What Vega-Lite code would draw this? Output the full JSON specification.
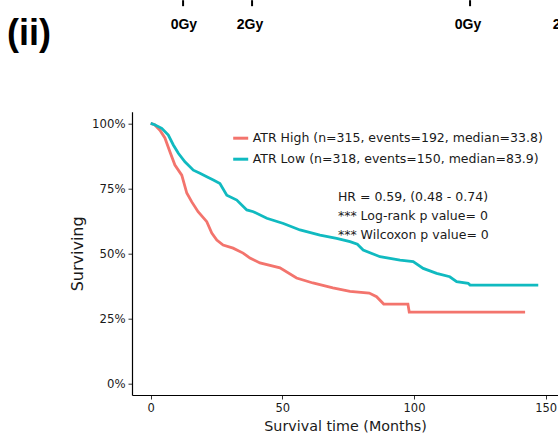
{
  "$schema": "https://vega.github.io/schema/vega-lite/v6.json",
  "autosize": "none",
  "width": 426,
  "height": 283.3,
  "padding": {"left": 132, "top": 111.7, "right": 0, "bottom": 42},
  "background": "white",
  "config": {
    "font": "DejaVu Sans",
    "view": {"stroke": null},
    "axis": {"grid": false, "domainColor": "#000000", "domainWidth": 1.2, "tickColor": "#333333", "tickSize": 4, "labelColor": "#1a1a1a", "titleColor": "#1a1a1a", "titleFontWeight": "normal", "labelFont": "DejaVu Sans", "titleFont": "DejaVu Sans", "labelFlush": false}
  },
  "encoding": {
    "x": {"field": "t", "type": "quantitative", "scale": {"domain": [-7.1, 154.7], "nice": false, "zero": false},
      "axis": {"title": "Survival time (Months)", "values": [0, 50, 100, 150], "labelFontSize": 11.5, "titleFontSize": 14.3, "labelPadding": 3, "titlePadding": 6}},
    "y": {"field": "s", "type": "quantitative", "scale": {"domain": [-0.045, 1.045], "nice": false, "zero": false},
      "axis": {"title": "Surviving", "values": [0, 0.25, 0.5, 0.75, 1], "format": ".0%", "labelFontSize": 11.7, "titleFontSize": 16, "labelPadding": 3, "titlePadding": 6}}
  },
  "layer": [
    {
      "data": {"values": [
        {"g": "ATR High (n=315, events=192, median=33.8)", "t": 0, "s": 1.0},
        {"g": "ATR High (n=315, events=192, median=33.8)", "t": 1.5, "s": 0.995},
        {"g": "ATR High (n=315, events=192, median=33.8)", "t": 3.5, "s": 0.974},
        {"g": "ATR High (n=315, events=192, median=33.8)", "t": 5.4, "s": 0.944},
        {"g": "ATR High (n=315, events=192, median=33.8)", "t": 7.3, "s": 0.891},
        {"g": "ATR High (n=315, events=192, median=33.8)", "t": 9.2, "s": 0.84},
        {"g": "ATR High (n=315, events=192, median=33.8)", "t": 11.8, "s": 0.801},
        {"g": "ATR High (n=315, events=192, median=33.8)", "t": 13.7, "s": 0.732},
        {"g": "ATR High (n=315, events=192, median=33.8)", "t": 15.6, "s": 0.698},
        {"g": "ATR High (n=315, events=192, median=33.8)", "t": 18.0, "s": 0.66},
        {"g": "ATR High (n=315, events=192, median=33.8)", "t": 21.3, "s": 0.622},
        {"g": "ATR High (n=315, events=192, median=33.8)", "t": 23.2, "s": 0.578},
        {"g": "ATR High (n=315, events=192, median=33.8)", "t": 25.1, "s": 0.551},
        {"g": "ATR High (n=315, events=192, median=33.8)", "t": 27.5, "s": 0.532},
        {"g": "ATR High (n=315, events=192, median=33.8)", "t": 31.3, "s": 0.52},
        {"g": "ATR High (n=315, events=192, median=33.8)", "t": 35.1, "s": 0.501},
        {"g": "ATR High (n=315, events=192, median=33.8)", "t": 37.7, "s": 0.482},
        {"g": "ATR High (n=315, events=192, median=33.8)", "t": 41.5, "s": 0.463},
        {"g": "ATR High (n=315, events=192, median=33.8)", "t": 49.1, "s": 0.444},
        {"g": "ATR High (n=315, events=192, median=33.8)", "t": 55.4, "s": 0.405},
        {"g": "ATR High (n=315, events=192, median=33.8)", "t": 61.6, "s": 0.386},
        {"g": "ATR High (n=315, events=192, median=33.8)", "t": 69.2, "s": 0.367},
        {"g": "ATR High (n=315, events=192, median=33.8)", "t": 75.7, "s": 0.354},
        {"g": "ATR High (n=315, events=192, median=33.8)", "t": 83.0, "s": 0.347},
        {"g": "ATR High (n=315, events=192, median=33.8)", "t": 85.8, "s": 0.333},
        {"g": "ATR High (n=315, events=192, median=33.8)", "t": 88.5, "s": 0.305},
        {"g": "ATR High (n=315, events=192, median=33.8)", "t": 97.7, "s": 0.305},
        {"g": "ATR High (n=315, events=192, median=33.8)", "t": 98.2, "s": 0.274},
        {"g": "ATR High (n=315, events=192, median=33.8)", "t": 142.2, "s": 0.274},
        {"g": "ATR Low (n=318, events=150, median=83.9)", "t": 0, "s": 1.0},
        {"g": "ATR Low (n=318, events=150, median=83.9)", "t": 1.5, "s": 0.995},
        {"g": "ATR Low (n=318, events=150, median=83.9)", "t": 4.2, "s": 0.981},
        {"g": "ATR Low (n=318, events=150, median=83.9)", "t": 6.7, "s": 0.955},
        {"g": "ATR Low (n=318, events=150, median=83.9)", "t": 8.6, "s": 0.917},
        {"g": "ATR Low (n=318, events=150, median=83.9)", "t": 10.5, "s": 0.885},
        {"g": "ATR Low (n=318, events=150, median=83.9)", "t": 13.0, "s": 0.852},
        {"g": "ATR Low (n=318, events=150, median=83.9)", "t": 16.2, "s": 0.82},
        {"g": "ATR Low (n=318, events=150, median=83.9)", "t": 18.7, "s": 0.808},
        {"g": "ATR Low (n=318, events=150, median=83.9)", "t": 21.3, "s": 0.795},
        {"g": "ATR Low (n=318, events=150, median=83.9)", "t": 23.8, "s": 0.782},
        {"g": "ATR Low (n=318, events=150, median=83.9)", "t": 26.3, "s": 0.769},
        {"g": "ATR Low (n=318, events=150, median=83.9)", "t": 28.9, "s": 0.724},
        {"g": "ATR Low (n=318, events=150, median=83.9)", "t": 32.7, "s": 0.705},
        {"g": "ATR Low (n=318, events=150, median=83.9)", "t": 36.5, "s": 0.667},
        {"g": "ATR Low (n=318, events=150, median=83.9)", "t": 39.0, "s": 0.66},
        {"g": "ATR Low (n=318, events=150, median=83.9)", "t": 44.1, "s": 0.635},
        {"g": "ATR Low (n=318, events=150, median=83.9)", "t": 50.4, "s": 0.615},
        {"g": "ATR Low (n=318, events=150, median=83.9)", "t": 56.7, "s": 0.59},
        {"g": "ATR Low (n=318, events=150, median=83.9)", "t": 64.3, "s": 0.57},
        {"g": "ATR Low (n=318, events=150, median=83.9)", "t": 70.6, "s": 0.558},
        {"g": "ATR Low (n=318, events=150, median=83.9)", "t": 75.7, "s": 0.545},
        {"g": "ATR Low (n=318, events=150, median=83.9)", "t": 78.5, "s": 0.535},
        {"g": "ATR Low (n=318, events=150, median=83.9)", "t": 80.7, "s": 0.513},
        {"g": "ATR Low (n=318, events=150, median=83.9)", "t": 87.1, "s": 0.487},
        {"g": "ATR Low (n=318, events=150, median=83.9)", "t": 94.7, "s": 0.474},
        {"g": "ATR Low (n=318, events=150, median=83.9)", "t": 99.7, "s": 0.468},
        {"g": "ATR Low (n=318, events=150, median=83.9)", "t": 103.5, "s": 0.442},
        {"g": "ATR Low (n=318, events=150, median=83.9)", "t": 108.6, "s": 0.423},
        {"g": "ATR Low (n=318, events=150, median=83.9)", "t": 113.6, "s": 0.41},
        {"g": "ATR Low (n=318, events=150, median=83.9)", "t": 116.2, "s": 0.391},
        {"g": "ATR Low (n=318, events=150, median=83.9)", "t": 120.6, "s": 0.385},
        {"g": "ATR Low (n=318, events=150, median=83.9)", "t": 121.3, "s": 0.378},
        {"g": "ATR Low (n=318, events=150, median=83.9)", "t": 147.2, "s": 0.378}
      ]},
      "mark": {"type": "line", "strokeWidth": 2.8, "interpolate": "linear"},
      "encoding": {
        "color": {"field": "g", "type": "nominal",
          "scale": {"domain": ["ATR High (n=315, events=192, median=33.8)", "ATR Low (n=318, events=150, median=83.9)"], "range": ["#F3746D", "#10BAC0"]},
          "legend": {"title": null, "orient": "none", "legendX": 99.7, "legendY": 17.5, "symbolType": "stroke", "symbolStrokeWidth": 3, "symbolSize": 225, "labelFontSize": 12.5, "labelFont": "DejaVu Sans", "labelColor": "#1a1a1a", "rowPadding": 5, "padding": 0, "labelOffset": 3, "labelLimit": 400}}
      }
    },
    {
      "data": {"values": [
        {"label": "HR = 0.59, (0.48 - 0.74)", "t": 71.1, "s": 0.701},
        {"label": "*** Log-rank p value= 0", "t": 71.1, "s": 0.628},
        {"label": "*** Wilcoxon p value= 0", "t": 71.1, "s": 0.554}
      ]},
      "mark": {"type": "text", "align": "left", "baseline": "alphabetic", "fontSize": 12.5, "font": "DejaVu Sans", "color": "#1a1a1a"},
      "encoding": {"text": {"field": "label"}}
    },
    {
      "data": {"values": [
        {"label": "(ii)", "t": -54.6, "s": 1.301}
      ]},
      "mark": {"type": "text", "align": "left", "baseline": "alphabetic", "fontSize": 36, "fontWeight": "bold", "font": "Liberation Sans", "color": "#000000"},
      "encoding": {"text": {"field": "label"}}
    },
    {
      "data": {"values": [
        {"label": "0Gy", "t": 12.6, "s": 1.365},
        {"label": "2Gy", "t": 37.7, "s": 1.365},
        {"label": "0Gy", "t": 120.5, "s": 1.365},
        {"label": "2Gy", "t": 157.7, "s": 1.365}
      ]},
      "mark": {"type": "text", "align": "center", "baseline": "alphabetic", "fontSize": 14, "fontWeight": "bold", "font": "Liberation Sans", "color": "#000000"},
      "encoding": {"text": {"field": "label"}}
    },
    {
      "data": {"values": [
        {"t": 12.3, "s": 1.474, "s2": 1.451},
        {"t": 38.5, "s": 1.474, "s2": 1.451},
        {"t": 121.3, "s": 1.474, "s2": 1.451}
      ]},
      "mark": {"type": "rule", "strokeWidth": 2, "color": "#000000"},
      "encoding": {"y2": {"field": "s2"}}
    }
  ]
}
